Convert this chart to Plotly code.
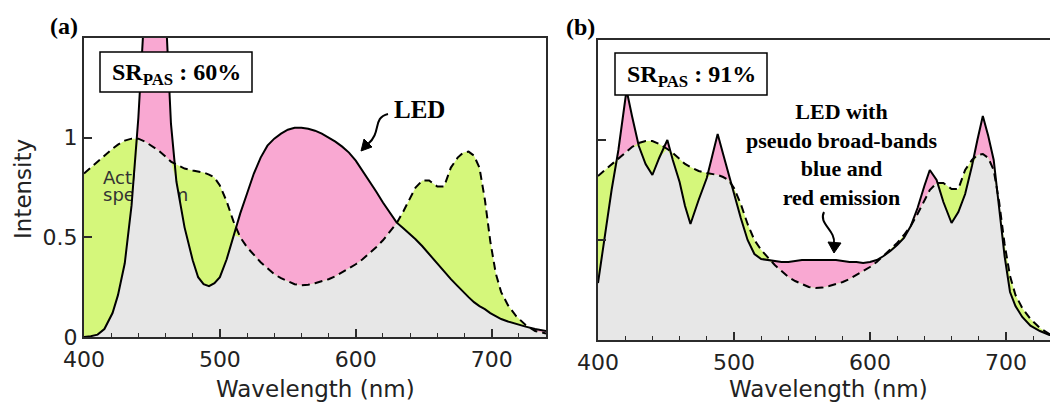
import numpy as np
import plotly.graph_objects as go

# ---------------- data ----------------
wavelength = [400, 405, 410, 415, 421, 425, 430, 435, 440, 445, 451, 455, 460, 464, 468, 474,
              480, 484, 488, 492, 496, 500, 505, 510, 515, 520, 525, 530, 535, 540, 545, 550,
              555, 560, 565, 570, 575, 580, 585, 590, 595, 600, 605, 610, 615, 620, 625, 630,
              635, 640, 644, 649, 654, 660, 665, 670, 675, 679, 683, 687, 691, 695, 699, 703,
              707, 712, 718, 725, 732, 740]

action_spectrum = [0.82, 0.85, 0.88, 0.91, 0.945, 0.965, 0.985, 0.995, 0.995, 0.98, 0.955, 0.935,
                   0.905, 0.88, 0.865, 0.845, 0.835, 0.83, 0.825, 0.815, 0.80, 0.76, 0.68, 0.58,
                   0.50, 0.45, 0.41, 0.375, 0.345, 0.315, 0.295, 0.28, 0.265, 0.26, 0.262, 0.27,
                   0.28, 0.29, 0.305, 0.325, 0.345, 0.365, 0.39, 0.42, 0.45, 0.485, 0.525, 0.57,
                   0.63, 0.70, 0.75, 0.785, 0.785, 0.755, 0.755, 0.85, 0.90, 0.925, 0.93, 0.91,
                   0.85, 0.69, 0.48, 0.32, 0.225, 0.16, 0.105, 0.06, 0.03, 0.018]

led_a = [0.0, 0.004, 0.012, 0.04, 0.12, 0.21, 0.37, 0.66, 1.1, 1.7, 2.05, 2.05, 1.65, 1.07,
         0.78, 0.55, 0.385, 0.30, 0.265, 0.255, 0.27, 0.30, 0.39, 0.51, 0.62, 0.72, 0.82, 0.90,
         0.96, 0.995, 1.02, 1.04, 1.05, 1.05, 1.045, 1.035, 1.02, 1.0, 0.98, 0.955, 0.925, 0.885,
         0.835, 0.78, 0.73, 0.675, 0.625, 0.575, 0.545, 0.515, 0.49, 0.455, 0.415, 0.37, 0.33,
         0.29, 0.255, 0.225, 0.20, 0.175, 0.155, 0.14, 0.12, 0.105, 0.09, 0.078, 0.065, 0.052,
         0.04, 0.03]

led_b = [0.285, 0.52, 0.75, 0.95, 1.25, 1.12, 0.97, 0.88, 0.825, 0.91, 1.0, 0.90, 0.79, 0.67,
         0.58, 0.70, 0.81, 0.92, 1.03, 0.93, 0.83, 0.73, 0.61, 0.50, 0.43, 0.405, 0.40, 0.395,
         0.39, 0.39, 0.395, 0.40, 0.40, 0.40, 0.40, 0.40, 0.40, 0.395, 0.39, 0.39, 0.385, 0.39,
         0.40, 0.42, 0.445, 0.475, 0.51, 0.57, 0.66, 0.77, 0.85, 0.80, 0.69, 0.585, 0.64, 0.73,
         0.87, 1.0, 1.12, 1.02, 0.90, 0.66, 0.42, 0.24, 0.17, 0.115, 0.072, 0.045, 0.025, 0.015]

x_ticks = [400, 500, 600, 700]
y_ticks = [0, 0.5, 1]
y_ticktext = ["0", "0.5", "1"]
sr_labels = ["SR<sub>PAS</sub> : 60%", "SR<sub>PAS</sub> : 91%"]

# ---------------- style ----------------
W, H = 1050, 405
GREEN = "#d5f77b"
PINK = "#f9a8d2"
GRAY = "#e7e7e7"
AXC = "#2b2b2b"
SANS = "DejaVu Sans"
SERIF = "Liberation Serif"


def X(px):
    return px / W


def Y(py):
    return 1 - py / H


fig = go.Figure()


def add_panel(led, xa, ya, with_label_text):
    wl = np.array(wavelength)
    led = np.array(led)
    act = np.array(action_spectrum)
    low = np.minimum(led, act)
    fig.add_trace(go.Scatter(x=wl, y=led, fill="tozeroy", fillcolor=PINK, mode="lines",
                             line=dict(width=0), xaxis=xa, yaxis=ya, hoverinfo="skip"))
    fig.add_trace(go.Scatter(x=wl, y=act, fill="tozeroy", fillcolor=GREEN, mode="lines",
                             line=dict(width=0), xaxis=xa, yaxis=ya, hoverinfo="skip"))
    if with_label_text:
        fig.add_trace(go.Scatter(x=[414, 414], y=[0.79, 0.705], mode="text",
                                 text=["Action", "spectrum"], textposition="middle right",
                                 textfont=dict(family=SANS, size=18, color="#333333"),
                                 xaxis=xa, yaxis=ya, hoverinfo="skip"))
    fig.add_trace(go.Scatter(x=wl, y=low, fill="tozeroy", fillcolor=GRAY, mode="lines",
                             line=dict(width=0), xaxis=xa, yaxis=ya, hoverinfo="skip"))
    fig.add_trace(go.Scatter(x=wl, y=led, mode="lines", line=dict(color="black", width=2),
                             xaxis=xa, yaxis=ya, hoverinfo="skip"))
    fig.add_trace(go.Scatter(x=wl, y=act, mode="lines",
                             line=dict(color="black", width=2, dash="8px,5px"),
                             xaxis=xa, yaxis=ya, hoverinfo="skip"))


add_panel(led_a, "x", "y", True)
add_panel(led_b, "x2", "y2", False)

xcommon = dict(tickvals=x_ticks, ticks="inside", ticklen=8, tickwidth=1.5, tickcolor=AXC,
               showline=True, linecolor=AXC, linewidth=2, showgrid=False, zeroline=False,
               automargin=False, ticklabelstandoff=2,
               tickfont=dict(family=SANS, size=22, color="#222"),
               minor=dict(dtick=20, ticks="inside", ticklen=4, tickwidth=1.2, tickcolor=AXC))
ycommon = dict(range=[0, 1.5], tickvals=y_ticks, ticktext=y_ticktext, ticks="inside", ticklen=8,
               tickwidth=1.5, tickcolor=AXC, showline=True, linecolor=AXC, linewidth=2,
               showgrid=False, zeroline=False, automargin=False,
               tickfont=dict(family=SANS, size=22, color="#222"))

fig.update_layout(
    width=W, height=H, margin=dict(l=0, r=0, t=0, b=0, pad=0, autoexpand=False),
    paper_bgcolor="white", plot_bgcolor="white", showlegend=False,
    xaxis=dict(domain=[X(84), X(546)], range=[400, 740], mirror=True, anchor="y", **xcommon),
    yaxis=dict(domain=[Y(337), Y(38)], mirror=True, anchor="x", **ycommon),
    xaxis2=dict(domain=[X(598), 1.0], range=[400, 732.4], mirror=True, anchor="y2", **xcommon),
    yaxis2=dict(domain=[Y(340), Y(40)], mirror=False, anchor="x2", showticklabels=False, **ycommon),
)


def note(cx, cy, text, font, **kw):
    fig.add_annotation(xref="paper", yref="paper", x=X(cx), y=Y(cy), text=text, showarrow=False,
                       xanchor="center", yanchor="middle", font=font, **kw)


# SR boxes
for (x0, y0, x1, y1), txt in zip([(100, 52, 252, 92), (615, 53, 767, 95)], sr_labels):
    fig.add_shape(type="rect", xref="paper", yref="paper", x0=X(x0), x1=X(x1), y0=Y(y1), y1=Y(y0),
                  fillcolor="white", line=dict(color="black", width=1.5), layer="above")
    note((x0 + x1) / 2, (y0 + y1) / 2 + 2, "<b>" + txt + "</b>",
         dict(family=SERIF, size=24, color="black"))

# panel labels
note(64, 26, "<b>(a)</b>", dict(family=SERIF, size=24, color="black"))
note(580, 27, "<b>(b)</b>", dict(family=SERIF, size=24, color="black"))

# axis titles
for cx in (315, 828):
    note(cx, 389, "Wavelength (nm)", dict(family=SANS, size=23, color="#222"))
note(23, 189, "Intensity", dict(family=SANS, size=23, color="#222"), textangle=-90)

# LED labels
note(419, 109, "<b>LED</b>", dict(family=SERIF, size=25, color="black"))
note(841, 155, "<b>LED with<br>pseudo broad-bands<br>blue and<br>red emission</b>",
     dict(family=SERIF, size=22, color="black"))


def squiggle(pts, tip, head):
    (sx, sy), c1, c2, (ex, ey) = pts
    path = (f"M {X(sx)},{Y(sy)} C {X(c1[0])},{Y(c1[1])} {X(c2[0])},{Y(c2[1])} {X(ex)},{Y(ey)}")
    fig.add_shape(type="path", xref="paper", yref="paper", path=path,
                  line=dict(color="black", width=2))
    (hx1, hy1), (hx2, hy2) = head
    tri = f"M {X(tip[0])},{Y(tip[1])} L {X(hx1)},{Y(hy1)} L {X(hx2)},{Y(hy2)} Z"
    fig.add_shape(type="path", xref="paper", yref="paper", path=tri, fillcolor="black",
                  line=dict(color="black", width=1))


squiggle([(388, 114), (372, 118), (382, 132), (368, 144)], (361, 151), [(364, 139), (372, 147)])
squiggle([(824, 212), (818, 224), (836, 230), (834, 244)], (834, 253), [(828, 242), (841, 243)])

fig.write_html("out.html")
